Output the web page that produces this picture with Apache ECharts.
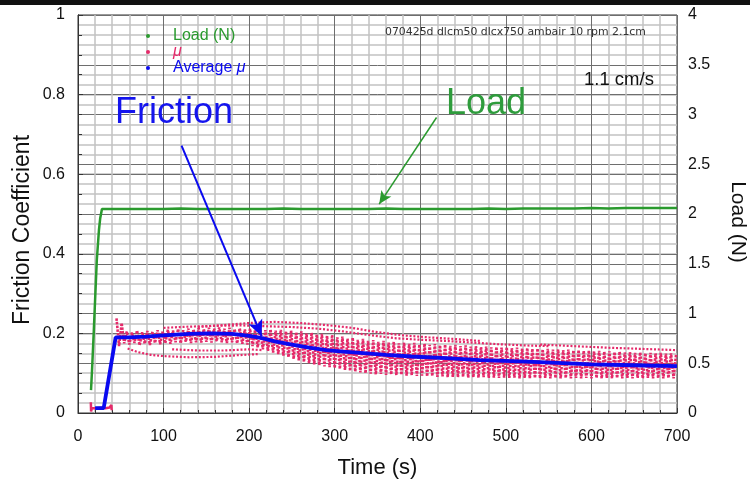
<!DOCTYPE html>
<html>
<head>
<meta charset="utf-8">
<script src="https://cdn.jsdelivr.net/npm/echarts@6/dist/echarts.min.js"></script>
<style>html,body{margin:0;padding:0;background:#fff}#c{width:750px;height:484px}</style>
</head>
<body>
<div id="c"></div>
<script>
// ---- data (time in s) ----
const loadData = [[15.2,0.23],[16.4,0.43],[18.5,0.83],[20,1.14],[22,1.54],[24.5,1.84],[26,1.96],[28,2.05],
  [40,2.05],[60,2.05],[80,2.05],[100,2.05],[120,2.055],[140,2.05],[160,2.05],[180,2.05],[200,2.05],[220,2.05],
  [240,2.055],[260,2.05],[280,2.05],[300,2.05],[320,2.05],[340,2.05],[360,2.055],[380,2.05],[400,2.05],[420,2.05],
  [440,2.05],[460,2.05],[480,2.055],[500,2.05],[520,2.055],[540,2.055],[560,2.055],[580,2.055],[600,2.06],[620,2.055],
  [640,2.06],[660,2.06],[680,2.06],[700,2.06]];

const muEarly = [[15,0.027],[15.3,0.004],[16,0.012],[22,0.012],[27,0.013],[32,0.012],[37,0.014],[39,0.02],[39.4,0.007]];

const muZig = [[45,0.238],[48,0.168],[51,0.226],[54,0.175],[57,0.205],[60,0.172],[63,0.202],[66,0.176],[69,0.207],[72,0.17],
  [75,0.203],[78,0.174],[81,0.206],[84,0.171],[87,0.204],[90,0.176],[93,0.208],[96,0.173],[99,0.205],[102,0.175],
  [105,0.209],[108,0.174],[111,0.207],[114,0.178],[117,0.211],[120,0.175],[123,0.208],[126,0.179],[129,0.212],[132,0.176],
  [135,0.21],[138,0.178],[141,0.213],[144,0.177],[147,0.211],[150,0.179],[153,0.214],[156,0.177],[159,0.212],[162,0.18],
  [165,0.215],[168,0.178],[171,0.212],[174,0.176],[177,0.214],[180,0.178],[183,0.211],[186,0.175],[189,0.213],[192,0.174],
  [195,0.21],[198,0.172],[201,0.212],[204,0.168],[207,0.209],[210,0.165],[213,0.211],[216,0.16],[219,0.208],[222,0.156],
  [225,0.21],[228,0.152],[231,0.207],[234,0.148],[237,0.209],[240,0.144],[243,0.205],[246,0.14],[249,0.207],[252,0.136],
  [255,0.203],[258,0.132],[261,0.205],[264,0.128],[267,0.2],[270,0.125],[273,0.202],[276,0.122],[279,0.197],[282,0.12],
  [285,0.199],[288,0.117],[291,0.194],[294,0.115],[297,0.196],[300,0.113],[303,0.19],[306,0.111],[309,0.192],[312,0.108],
  [315,0.187],[318,0.106],[321,0.189],[324,0.104],[327,0.184],[330,0.102],[333,0.186],[336,0.1],[339,0.181],[342,0.099],
  [345,0.183],[348,0.097],[351,0.179],[354,0.098],[357,0.181],[360,0.096],[363,0.177],[366,0.097],[369,0.179],[372,0.095],
  [375,0.175],[378,0.096],[381,0.177],[384,0.094],[387,0.174],[390,0.095],[393,0.176],[396,0.093],[399,0.172],[402,0.094],
  [405,0.174],[408,0.092],[411,0.171],[414,0.093],[417,0.173],[420,0.091],[423,0.17],[426,0.092],[429,0.172],[432,0.09],
  [435,0.169],[438,0.091],[441,0.171],[444,0.09],[447,0.168],[450,0.091],[453,0.17],[456,0.089],[459,0.167],[462,0.09],
  [465,0.168],[468,0.089],[471,0.166],[474,0.09],[477,0.167],[480,0.088],[483,0.165],[486,0.089],[489,0.166],[492,0.088],
  [495,0.164],[498,0.089],[501,0.165],[504,0.088],[507,0.163],[510,0.089],[513,0.164],[516,0.087],[519,0.162],[522,0.088],
  [525,0.163],[528,0.087],[531,0.161],[534,0.088],[537,0.162],[540,0.087],[543,0.16],[546,0.088],[549,0.161],[552,0.087],
  [555,0.159],[558,0.088],[561,0.16],[564,0.087],[567,0.158],[570,0.088],[573,0.159],[576,0.087],[579,0.157],[582,0.088],
  [585,0.158],[588,0.087],[591,0.156],[594,0.088],[597,0.157],[600,0.087],[603,0.155],[606,0.088],[609,0.156],[612,0.087],
  [615,0.154],[618,0.088],[621,0.155],[624,0.087],[627,0.153],[630,0.088],[633,0.154],[636,0.087],[639,0.152],[642,0.088],
  [645,0.153],[648,0.087],[651,0.151],[654,0.088],[657,0.152],[660,0.087],[663,0.15],[666,0.088],[669,0.151],[672,0.087],
  [675,0.15],[678,0.088],[681,0.151],[684,0.087],[687,0.149],[690,0.088],[693,0.15],[696,0.087],[699,0.149]];

const muTrailUpA = [[140,0.216],[170,0.221],[200,0.226],[230,0.229],[260,0.226],[290,0.221],[320,0.214],[350,0.203],[380,0.195],[410,0.19],[440,0.186],[470,0.181]];
const muTrailUpB = [[100,0.214],[130,0.217],[160,0.219],[190,0.22],[220,0.218],[250,0.216],[280,0.212],[310,0.205],[340,0.196],[370,0.188],[400,0.184],[430,0.181],[460,0.177],[490,0.173],[520,0.17],[550,0.168]];
const muTrailUpC = [[540,0.172],[580,0.168],[620,0.164],[660,0.161],[700,0.158]];
const muTrailLowA = [[58,0.162],[70,0.153],[85,0.146],[100,0.143],[130,0.14],[160,0.141],[185,0.145],[210,0.148]];
const muTrailLowB = [[110,0.16],[140,0.157],[170,0.157],[200,0.16],[215,0.158]];

const avgMu = [[20,0.012],[30,0.012],[44,0.19],[60,0.19],[80,0.192],[100,0.195],[130,0.199],[155,0.2],[180,0.199],
  [200,0.194],[215,0.188],[230,0.18],[250,0.172],[270,0.164],[290,0.158],[310,0.154],[330,0.151],[360,0.146],
  [390,0.142],[430,0.138],[470,0.133],[525,0.129],[560,0.126],[600,0.122],[650,0.12],[700,0.118]];

const frictionArrow = [[121,0.672],[214.6,0.193]];
const loadArrow = [[419,2.97],[352,2.1]];

const GREEN = '#2a9a2e', PINK = '#e52a6a', BLUE = '#0a0af0';
const FONT = 'Liberation Sans';

const chart = echarts.init(document.getElementById('c'), null, {renderer:'canvas'});
const pinkDotted = {color: PINK, width: 2.6, type: [2.5, 1.2]};
const pinkTrail = {color: PINK, width: 2.2, type: [2, 1.8]};
function trail(d){ return {name:'μ', type:'line', yAxisIndex:1, data:d, showSymbol:false, itemStyle:{color:PINK}, lineStyle:pinkTrail, z:2}; }

const option = {
  animation: false,
  backgroundColor: '#fff',
  textStyle: {fontFamily: FONT},
  grid: {left:78, right:73, top:15, bottom:71, outerBoundsMode:'none', containLabel:false,
         show:true, borderColor:'#333', borderWidth:1, backgroundColor:'#fff'},
  legend: {
    orient:'vertical', left:141, top:23, itemGap:0, icon:'circle', itemWidth:4, itemHeight:4, selectedMode:false,
    textStyle:{fontSize:16, lineHeight:15.5, padding:[0,0,0,18], fontFamily:FONT, rich:{i:{fontStyle:'italic', fontSize:16, fontFamily:FONT}}},
    formatter: function(n){ if(n==='μ') return '{i|μ}'; if(n==='Average μ') return 'Average {i|μ}'; return n; },
    data:[{name:'Load (N)', textStyle:{color:GREEN}}, {name:'μ', textStyle:{color:PINK}}, {name:'Average μ', textStyle:{color:BLUE}}]
  },
  xAxis: {
    type:'value', min:0, max:700, interval:100,
    axisLine:{lineStyle:{color:'#333'}},
    axisTick:{inside:true, length:5, lineStyle:{color:'#333'}},
    minorTick:{show:true, splitNumber:5, length:3, lineStyle:{color:'#333'}},
    splitLine:{show:true, lineStyle:{color:'#6e6e6e', width:1}},
    minorSplitLine:{show:true, lineStyle:{color:'#c2c2c2', width:1.5}},
    axisLabel:{fontSize:16, color:'#111', margin:16},
    name:'Time (s)', nameLocation:'middle', nameGap:44, nameTextStyle:{fontSize:22, color:'#111'}
  },
  yAxis: [
    {
      type:'value', position:'right', min:0, max:4, interval:0.5,
      axisLine:{show:true, lineStyle:{color:'#333'}},
      axisTick:{show:false},
      minorTick:{show:false, splitNumber:5},
      splitLine:{show:true, lineStyle:{color:'#6e6e6e', width:1}},
      minorSplitLine:{show:true, lineStyle:{color:'#c2c2c2', width:1.5}},
      axisLabel:{fontSize:16, color:'#111', margin:11},
      name:'Load (N)', nameLocation:'middle', nameRotate:-90, nameGap:50,
      nameTextStyle:{fontSize:21, color:'#111', padding:[0,0,0,16]}
    },
    {
      type:'value', position:'left', min:0, max:1, interval:0.2,
      axisLine:{show:true, lineStyle:{color:'#333'}},
      axisTick:{show:true, inside:true, length:5, lineStyle:{color:'#333'}},
      minorTick:{show:true, splitNumber:4, length:4, lineStyle:{color:'#333'}},
      splitLine:{show:true, lineStyle:{color:'#6e6e6e', width:1}},
      minorSplitLine:{show:false},
      axisLabel:{fontSize:16, color:'#111', margin:13},
      name:'Friction Coefficient', nameLocation:'middle', nameGap:44, nameMoveOverlap:false,
      nameTextStyle:{fontSize:23, color:'#111', padding:[0,32,0,0]}
    }
  ],
  series: [
    {name:'μ', type:'line', yAxisIndex:1, data:muZig, showSymbol:false, itemStyle:{color:PINK}, lineStyle:pinkDotted, z:2},
    trail(muTrailUpA), trail(muTrailUpB), trail(muTrailUpC), trail(muTrailLowA), trail(muTrailLowB),
    {name:'μ', type:'line', yAxisIndex:1, data:muEarly, showSymbol:false, itemStyle:{color:PINK}, lineStyle:{color:PINK, width:2.5}, z:2},
    {name:'Average μ', type:'line', yAxisIndex:1, data:avgMu, showSymbol:false, itemStyle:{color:BLUE}, lineStyle:{color:BLUE, width:3.8}, z:3,
      markLine:{silent:true, symbol:['none','arrow'], symbolSize:[11,16], label:{show:false}, lineStyle:{color:BLUE, width:2, type:'solid'},
        data:[[{coord:frictionArrow[0]},{coord:frictionArrow[1]}]]}},
    {name:'Load (N)', type:'line', yAxisIndex:0, data:loadData, showSymbol:false, itemStyle:{color:GREEN}, lineStyle:{color:GREEN, width:2.5}, z:3,
      markLine:{silent:true, symbol:['none','arrow'], symbolSize:[9,13], label:{show:false}, lineStyle:{color:GREEN, width:1.5, type:'solid'},
        data:[[{coord:loadArrow[0]},{coord:loadArrow[1]}]]}}
  ],
  graphic: [
    {type:'rect', left:0, top:0, shape:{width:750, height:5}, style:{fill:'#111'}, z:100},
    {type:'text', x:385, y:32, style:{text:'070425d dlcm50 dlcx750 ambair 10 rpm 2.1cm', font:'10.9px "DejaVu Sans"', fill:'#333', textVerticalAlign:'middle'}, z:100},
    {type:'text', x:584, y:79.5, style:{text:'1.1 cm/s', font:'18.5px "Liberation Sans"', fill:'#111', textVerticalAlign:'middle'}, z:100},
    {type:'text', x:115, y:113, style:{text:'Friction', font:'36px "Liberation Sans"', fill:'#1414ee', textVerticalAlign:'middle'}, z:100},
    {type:'text', x:446, y:104.5, style:{text:'Load', font:'36px "Liberation Sans"', fill:'#2e9c3c', textVerticalAlign:'middle'}, z:100}
  ]
};
chart.setOption(option);
</script>
</body>
</html>
